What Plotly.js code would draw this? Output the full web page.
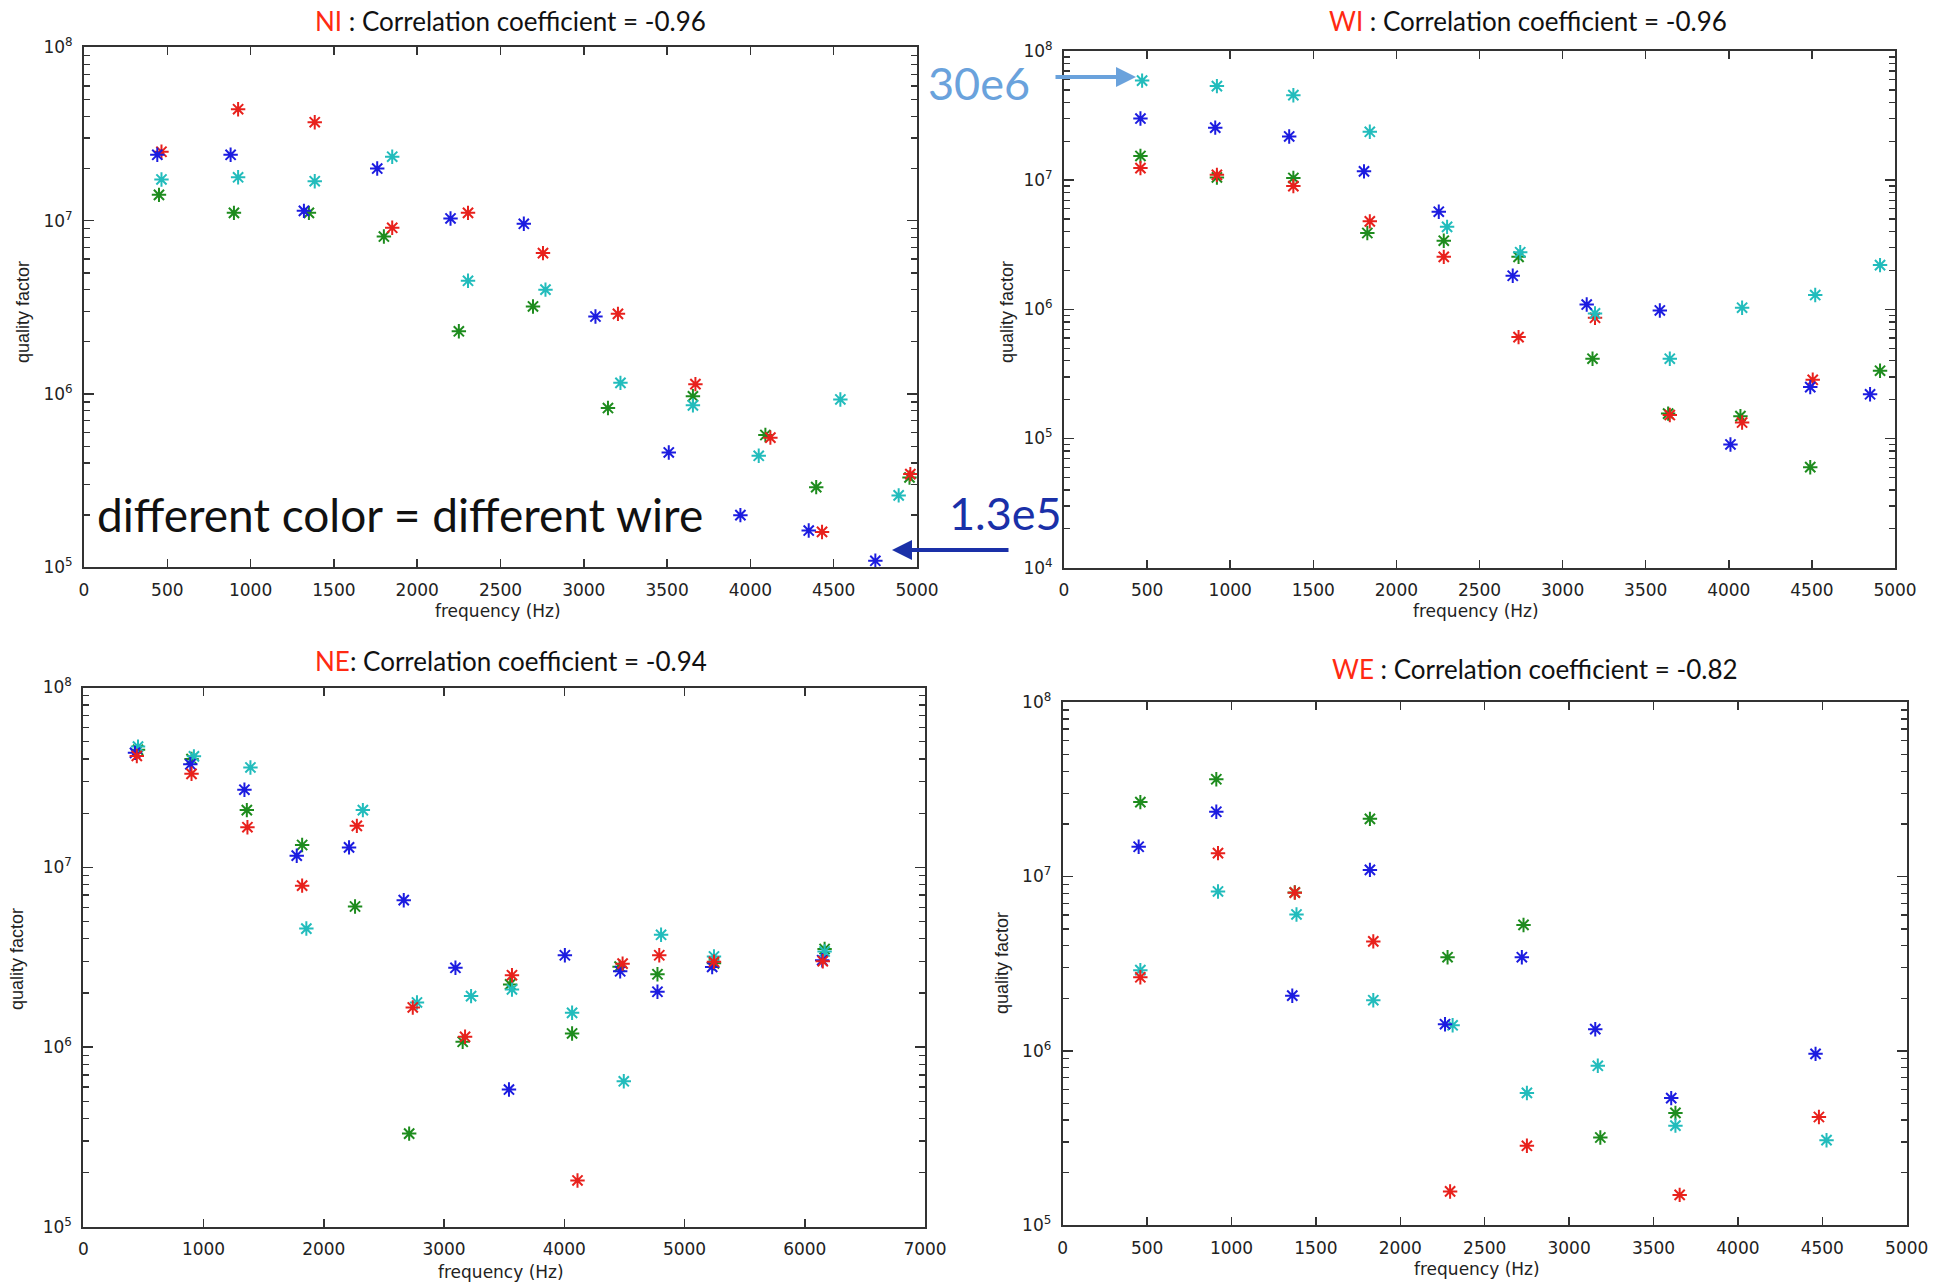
<!DOCTYPE html>
<html><head><meta charset="utf-8">
<script src="https://cdn.plot.ly/plotly-3.0.1.min.js"></script>
<style>html,body{margin:0;padding:0;background:#fff}#chart{width:1943px;height:1284px}</style>
</head><body><div id="chart"></div>
<script>
// ---------- DATA (frequency in Hz, quality factor) ----------
// NI
const NI_blue_f  = [440, 880, 1320, 1760, 2200, 2640, 3070, 3510, 3940, 4350, 4750];
const NI_blue_q  = [2.4e7, 2.4e7, 1.14e7, 2.0e7, 1.03e7, 9.6e6, 2.8e6, 4.6e5, 2.0e5, 1.63e5, 1.09e5];
const NI_red_f   = [465, 925, 1385, 1850, 2305, 2755, 3205, 3670, 4120, 4430, 4960];
const NI_red_q   = [2.5e7, 4.4e7, 3.7e7, 9.1e6, 1.11e7, 6.5e6, 2.9e6, 1.14e6, 5.6e5, 1.6e5, 3.45e5];
const NI_cyan_f  = [465, 925, 1385, 1850, 2305, 2770, 3220, 3655, 4050, 4540, 4890];
const NI_cyan_q  = [1.73e7, 1.78e7, 1.69e7, 2.34e7, 4.5e6, 4.0e6, 1.16e6, 8.6e5, 4.4e5, 9.3e5, 2.6e5];
const NI_green_f = [450, 900, 1350, 1800, 2250, 2695, 3145, 3655, 4090, 4395, 4955];
const NI_green_q = [1.41e7, 1.11e7, 1.11e7, 8.1e6, 2.3e6, 3.2e6, 8.3e5, 9.7e5, 5.8e5, 2.9e5, 3.3e5];
// WI
const WI_blue_f  = [460, 910, 1355, 1805, 2255, 2700, 3145, 3585, 4010, 4490, 4850];
const WI_blue_q  = [3.0e7, 2.55e7, 2.18e7, 1.17e7, 5.7e6, 1.82e6, 1.09e6, 9.8e5, 9.0e4, 2.5e5, 2.2e5];
const WI_red_f   = [460, 920, 1380, 1840, 2285, 2735, 3195, 3645, 4080, 4505];
const WI_red_q   = [1.24e7, 1.10e7, 9.0e6, 4.8e6, 2.55e6, 6.1e5, 8.6e5, 1.52e5, 1.33e5, 2.85e5];
const WI_cyan_f  = [470, 920, 1380, 1840, 2305, 2745, 3195, 3645, 4080, 4520, 4910];
const WI_cyan_q  = [5.9e7, 5.35e7, 4.55e7, 2.37e7, 4.35e6, 2.77e6, 9.3e5, 4.15e5, 1.03e6, 1.29e6, 2.2e6];
const WI_green_f = [460, 920, 1380, 1825, 2285, 2735, 3180, 3635, 4070, 4490, 4910];
const WI_green_q = [1.54e7, 1.05e7, 1.04e7, 3.9e6, 3.4e6, 2.55e6, 4.15e5, 1.56e5, 1.49e5, 6.0e4, 3.35e5];
// NE
const NE_blue_f  = [430, 890, 1340, 1775, 2210, 2665, 3095, 3540, 4005, 4465, 4775, 5230, 6145];
const NE_blue_q  = [4.33e7, 3.74e7, 2.7e7, 1.16e7, 1.29e7, 6.56e6, 2.76e6, 5.8e5, 3.24e6, 2.64e6, 2.03e6, 2.79e6, 3.04e6];
const NE_red_f   = [445, 900, 1365, 1820, 2275, 2740, 3175, 3565, 4110, 4485, 4790, 5245, 6150];
const NE_red_q   = [4.16e7, 3.31e7, 1.67e7, 7.9e6, 1.7e7, 1.66e6, 1.14e6, 2.51e6, 1.81e5, 2.91e6, 3.24e6, 2.98e6, 3.0e6];
const NE_cyan_f  = [455, 920, 1390, 1855, 2325, 2775, 3225, 3565, 4065, 4495, 4805, 5245, 6165];
const NE_cyan_q  = [4.69e7, 4.14e7, 3.59e7, 4.56e6, 2.08e7, 1.77e6, 1.92e6, 2.09e6, 1.55e6, 6.45e5, 4.21e6, 3.19e6, 3.4e6];
const NE_green_f = [455, 900, 1360, 1820, 2260, 2710, 3155, 3550, 4065, 4460, 4775, 5245, 6165];
const NE_green_q = [4.5e7, 4.0e7, 2.08e7, 1.33e7, 6.05e6, 3.3e5, 1.07e6, 2.23e6, 1.19e6, 2.8e6, 2.54e6, 2.92e6, 3.51e6];
// WE
const WE_blue_f  = [450, 910, 1360, 1820, 2265, 2720, 3155, 3605, 4460];
const WE_blue_q  = [1.48e7, 2.35e7, 2.07e6, 1.09e7, 1.42e6, 3.44e6, 1.33e6, 5.35e5, 9.6e5];
const WE_red_f   = [460, 920, 1375, 1840, 2295, 2750, 3655, 4480];
const WE_red_q   = [2.64e6, 1.36e7, 8.07e6, 4.24e6, 1.56e5, 2.85e5, 1.49e5, 4.17e5];
const WE_cyan_f  = [460, 920, 1385, 1840, 2310, 2750, 3170, 3630, 4525];
const WE_cyan_q  = [2.9e6, 8.2e6, 6.05e6, 1.95e6, 1.4e6, 5.73e5, 8.2e5, 3.72e5, 3.07e5];
const WE_green_f = [460, 910, 1375, 1820, 2280, 2730, 3185, 3630];
const WE_green_q = [2.67e7, 3.61e7, 8.1e6, 2.14e7, 3.44e6, 5.27e6, 3.18e5, 4.4e5];

const panelNames = ['NI', 'WI', 'NE', 'WE'];
const panelCorr  = ['-0.96', '-0.96', '-0.94', '-0.82'];

// ---------- STYLE ----------
const COLORS = {green:'#1e8c1e', cyan:'#22bcbc', red:'#e8211c', blue:'#1c1ce0'};
const W = 1943, H = 1284;
const px = v => v / W;
const py = v => 1 - v / H;

const panels = [
  {series: {green:[NI_green_f,NI_green_q], cyan:[NI_cyan_f,NI_cyan_q], red:[NI_red_f,NI_red_q], blue:[NI_blue_f,NI_blue_q]},
   xd:[84, 917], yd:[47.4, 567.3], xmax:5000, xdt:500, ymin:5},
  {series: {green:[WI_green_f,WI_green_q], red:[WI_red_f,WI_red_q], cyan:[WI_cyan_f,WI_cyan_q], blue:[WI_blue_f,WI_blue_q]},
   xd:[1064, 1895], yd:[51, 567.7], xmax:5000, xdt:500, ymin:4},
  {series: {green:[NE_green_f,NE_green_q], cyan:[NE_cyan_f,NE_cyan_q], blue:[NE_blue_f,NE_blue_q], red:[NE_red_f,NE_red_q]},
   xd:[83.3, 925], yd:[687.5, 1226.8], xmax:7000, xdt:1000, ymin:5},
  {series: {green:[WE_green_f,WE_green_q], cyan:[WE_cyan_f,WE_cyan_q], red:[WE_red_f,WE_red_q], blue:[WE_blue_f,WE_blue_q]},
   xd:[1062.7, 1906.7], yd:[702.1, 1225.1], xmax:5000, xdt:500, ymin:5}
];

function minorVals(lo, hi) {
  const v = [];
  for (let e = lo; e < hi; e++) for (let d = 2; d <= 9; d++) v.push(d * Math.pow(10, e));
  return v;
}
function majorVals(lo, hi) {
  const v = [];
  for (let e = lo; e <= hi; e++) v.push(Math.pow(10, e));
  return v;
}
function majorText(lo, hi) {
  const t = [];
  for (let e = lo; e <= hi; e++) t.push('10<sup>' + e + '</sup>');
  return t;
}

const traces = [];
const layout = {
  width: W, height: H, margin:{l:0,r:0,t:0,b:0},
  paper_bgcolor:'#fff', plot_bgcolor:'#fff', showlegend:false,
  font:{family:'DejaVu Sans', color:'#222'},
  annotations: []
};

const xTickFont = {family:'DejaVu Sans', size:17, color:'#222'};
const yTickFont = {family:'DejaVu Sans', size:17, color:'#222'};

panels.forEach((p, i) => {
  const n = i === 0 ? '' : String(i + 1);
  const xa = 'x' + n, ya = 'y' + n;
  Object.keys(p.series).forEach(c => {
    traces.push({
      type:'scatter', mode:'markers', xaxis:xa, yaxis:ya,
      x:p.series[c][0], y:p.series[c][1],
      marker:{symbol:'asterisk-open', size:12, color:COLORS[c], line:{color:COLORS[c], width:2}}
    });
  });
  layout['xaxis' + n] = {
    domain:[px(p.xd[0]), px(p.xd[1])], anchor:ya, range:[0, p.xmax], dtick:p.xdt, tick0:0,
    showline:true, linecolor:'#333', linewidth:2, mirror:'ticks', ticks:'inside', ticklen:8,
    tickwidth:1.5, tickcolor:'#333', showgrid:false, zeroline:false, tickfont:xTickFont,
    ticklabelstandoff:6
  };
  layout['yaxis' + n] = {
    domain:[py(p.yd[1]), py(p.yd[0])], anchor:xa, type:'log', range:[p.ymin, 8],
    tickmode:'array', tickvals:majorVals(p.ymin, 8), ticktext:majorText(p.ymin, 8),
    showline:true, linecolor:'#333', linewidth:2, mirror:'ticks', ticks:'inside', ticklen:10,
    tickwidth:1.5, tickcolor:'#333', showgrid:false, zeroline:false, tickfont:yTickFont,
    ticklabelstandoff:6,
    minor:{ticks:'inside', ticklen:6, tickwidth:1.3, tickcolor:'#333', tickmode:'array',
           tickvals:minorVals(p.ymin, 8), showgrid:false}
  };
});

// panel titles
const titlePos = [[511, 21], [1528, 21], [511, 661], [1535, 669]];
panelNames.forEach((nm, i) => {
  const sep = nm === 'NE' ? ': ' : ' : ';
  layout.annotations.push({
    xref:'paper', yref:'paper', x:px(titlePos[i][0]), y:py(titlePos[i][1]),
    xanchor:'center', yanchor:'middle', showarrow:false,
    text:'<span style="color:#ff2a12">' + nm + '</span>' + sep + 'Correlation coefficient = ' + panelCorr[i],
    font:{family:'Lato, Open Sans', size:26, color:'#111'}
  });
});

// axis titles
const yTitlePos = [[23, 312], [1007, 312], [17, 959], [1002, 963]];
const xTitlePos = [[498, 611], [1476, 611], [501, 1272], [1477, 1269]];
yTitlePos.forEach(pt => layout.annotations.push({
  xref:'paper', yref:'paper', x:px(pt[0]), y:py(pt[1]), xanchor:'center', yanchor:'middle',
  showarrow:false, textangle:-90, text:'quality factor',
  font:{family:'Liberation Sans Narrow, Liberation Sans, Arial', size:18, color:'#222'}
}));
xTitlePos.forEach(pt => layout.annotations.push({
  xref:'paper', yref:'paper', x:px(pt[0]), y:py(pt[1]), xanchor:'center', yanchor:'middle',
  showarrow:false, text:'frequency (Hz)',
  font:{family:'DejaVu Sans', size:17, color:'#222'}
}));

// big note
layout.annotations.push({
  xref:'paper', yref:'paper', x:px(95), y:py(514), xanchor:'left', yanchor:'middle',
  showarrow:false, text:'different color = different wire',
  font:{family:'Lato, Open Sans', size:46, color:'#111'}
});
// 30e6 label + arrow
layout.annotations.push({
  xref:'paper', yref:'paper', x:px(1032), y:py(83), xanchor:'right', yanchor:'middle',
  showarrow:false, text:'30e6', font:{family:'Lato, Open Sans', size:45, color:'#6aa2dc'}
});
layout.annotations.push({
  xref:'paper', yref:'paper', x:px(1136), y:py(77), text:'', showarrow:true,
  ax:-82, ay:0, arrowhead:2, arrowsize:1, arrowwidth:4, arrowcolor:'#6aa2dc'
});
// 1.3e5 label + arrow
layout.annotations.push({
  xref:'paper', yref:'paper', x:px(1064), y:py(513), xanchor:'right', yanchor:'middle',
  showarrow:false, text:'1.3e5', font:{family:'Lato, Open Sans', size:45, color:'#1a30a8'}
});
layout.annotations.push({
  xref:'paper', yref:'paper', x:px(892), y:py(550), text:'', showarrow:true,
  ax:118, ay:0, arrowhead:2, arrowsize:1, arrowwidth:4, arrowcolor:'#1a30a8'
});

Plotly.newPlot('chart', traces, layout, {displayModeBar:false, staticPlot:true});
</script>
</body></html>
